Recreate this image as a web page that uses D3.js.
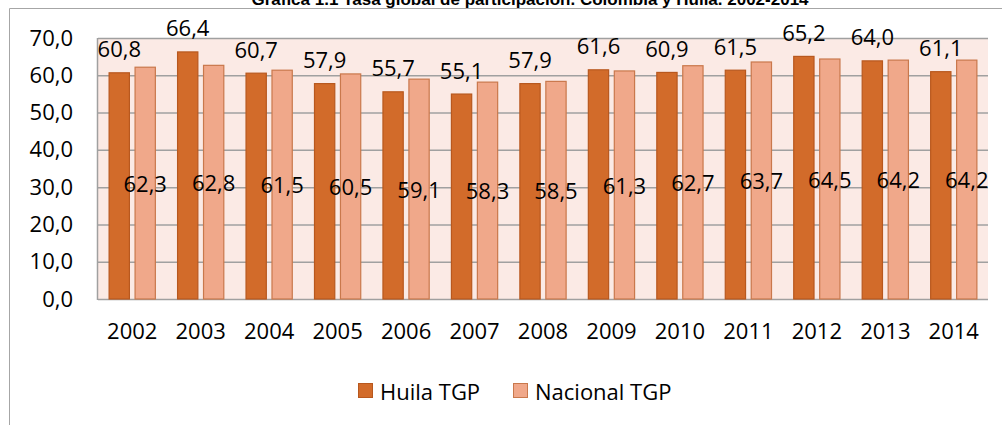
<!DOCTYPE html>
<html>
<head>
    <meta charset="utf-8">
    <title>Tasa global de participación</title>
    <script src="https://d3js.org/d3.v7.min.js"></script>
    <style>
        body { margin: 0; background: #fff; }
        svg text { font-family: 'Open Sans', sans-serif; fill: #000; }
        .title { font-family: 'Liberation Sans', Arial, sans-serif; font-weight: bold; font-size: 17px; }
    </style>
</head>
<body>
<div id="chart"></div>
<script>
    // data
    const years = ['2002', '2003', '2004', '2005', '2006', '2007', '2008', '2009', '2010', '2011', '2012', '2013', '2014'];
    const huila = [60.8, 66.4, 60.7, 57.9, 55.7, 55.1, 57.9, 61.6, 60.9, 61.5, 65.2, 64.0, 61.1];
    const nacional = [62.3, 62.8, 61.5, 60.5, 59.1, 58.3, 58.5, 61.3, 62.7, 63.7, 64.5, 64.2, 64.2];
    const seriesNames = ['Huila TGP', 'Nacional TGP'];
    const yTicks = [0, 10, 20, 30, 40, 50, 60, 70];

    const width = 1002, height = 425;
    const margin = { top: 38, right: 14, bottom: 126, left: 98 };

    const svg = d3.select('#chart').append('svg')
        .attr('width', width)
        .attr('height', height);

    // outer frame (top and left edges visible)
    svg.append('path')
        .attr('d', 'M9.5,' + height + 'V8.5H' + width)
        .attr('fill', 'none')
        .attr('stroke', '#a6a6a6')
        .attr('stroke-width', 1);

    // title is cropped at the top edge, as in the original
    svg.append('text')
        .attr('class', 'title')
        .attr('x', 530)
        .attr('y', 5)
        .attr('text-anchor', 'middle')
        .text('Gráfica 1.1 Tasa global de participación. Colombia y Huila. 2002-2014');

    const x = d3.scaleBand()
        .domain(years)
        .range([margin.left, width - margin.right])
        .paddingInner(0.31)
        .paddingOuter(0.155);

    const xSub = d3.scaleBand()
        .domain(seriesNames)
        .range([0, x.bandwidth()])
        .paddingInner(0.18);

    const y = d3.scaleLinear()
        .domain([0, 70])
        .range([height - margin.bottom, margin.top]);

    // plot area background
    svg.append('rect')
        .attr('x', margin.left)
        .attr('y', y(70))
        .attr('width', width - margin.right - margin.left)
        .attr('height', y(0) - y(70))
        .attr('fill', '#fbeae5');

    // gridlines
    svg.append('g')
        .selectAll('line')
        .data(yTicks)
        .join('line')
        .attr('x1', margin.left)
        .attr('x2', width - margin.right)
        .attr('y1', d => y(d) + 0.5)
        .attr('y2', d => y(d) + 0.5)
        .attr('stroke', '#a0a0a0')
        .attr('stroke-width', 1.5);

    // vertical edge of the plot area
    svg.append('line')
        .attr('x1', margin.left - 0.5).attr('x2', margin.left - 0.5)
        .attr('y1', y(70)).attr('y2', y(0) + 1)
        .attr('stroke', '#a0a0a0')
        .attr('stroke-width', 1.5);

    // y axis labels
    const yAxis = d3.axisLeft(y)
        .tickValues(yTicks)
        .tickSize(0)
        .tickPadding(25)
        .tickFormat(d => d3.format('.1f')(d).replace('.', ','));

    svg.append('g')
        .attr('transform', `translate(${margin.left},0)`)
        .call(yAxis)
        .call(g => g.select('.domain').remove())
        .selectAll('text')
        .style('font-size', '22px')
        .attr('font-family', null);

    // x axis labels
    const xAxis = d3.axisBottom(x).tickSize(0).tickPadding(24);
    svg.append('g')
        .attr('transform', `translate(0,${y(0)})`)
        .call(xAxis)
        .call(g => g.select('.domain').remove())
        .selectAll('text')
        .style('font-size', '22px')
        .attr('font-family', null);

    const fmt = v => d3.format('.1f')(v).replace('.', ',');
    const colors = { 'Huila TGP': '#d26b2a', 'Nacional TGP': '#f0a88a' };
    const strokes = { 'Huila TGP': '#b8581e', 'Nacional TGP': '#c9784c' };

    const rows = years.map((yr, i) => ({ year: yr, 'Huila TGP': huila[i], 'Nacional TGP': nacional[i] }));

    const groups = svg.append('g')
        .selectAll('g')
        .data(rows)
        .join('g')
        .attr('transform', d => `translate(${x(d.year)},0)`);

    groups.selectAll('rect')
        .data(d => seriesNames.map(s => ({ key: s, value: d[s] })))
        .join('rect')
        .attr('x', d => xSub(d.key) + 0.5)
        .attr('y', d => y(d.value) + 0.5)
        .attr('width', xSub.bandwidth() - 1)
        .attr('height', d => y(0) - y(d.value) - 0.5)
        .attr('fill', d => colors[d.key])
        .attr('stroke', d => strokes[d.key])
        .attr('stroke-width', 1.2);

    // Huila labels: above the bar
    groups.append('text')
        .attr('x', xSub('Huila TGP') + xSub.bandwidth() / 2)
        .attr('y', d => y(d['Huila TGP']) - 24)
        .attr('text-anchor', 'middle')
        .attr('dominant-baseline', 'central')
        .style('font-size', '22px')
        .text(d => fmt(d['Huila TGP']));

    // Nacional labels: centred in the bar
    groups.append('text')
        .attr('x', xSub('Nacional TGP') + xSub.bandwidth() / 2)
        .attr('y', d => y(d['Nacional TGP'] / 2))
        .attr('text-anchor', 'middle')
        .attr('dominant-baseline', 'central')
        .style('font-size', '22px')
        .text(d => fmt(d['Nacional TGP']));

    // legend
    const legend = svg.append('g').attr('transform', 'translate(358,383)');
    const legendX = [0, 155];
    seriesNames.forEach((s, i) => {
        legend.append('rect')
            .attr('x', legendX[i] + 0.5)
            .attr('y', 0.5)
            .attr('width', 14)
            .attr('height', 14)
            .attr('fill', colors[s])
            .attr('stroke', strokes[s]);
        legend.append('text')
            .attr('x', legendX[i] + 22)
            .attr('y', 8)
            .attr('dominant-baseline', 'central')
            .style('font-size', '22px')
            .text(s);
    });
</script>
</body>
</html>
